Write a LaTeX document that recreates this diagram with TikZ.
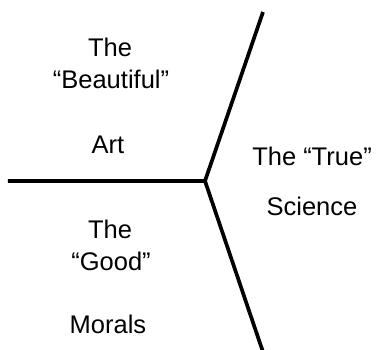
\documentclass[tikz,border=0pt]{standalone}
\usepackage{fontspec}
\setmainfont{Liberation Sans}
\usepackage{tikz}
\usetikzlibrary{positioning}

\begin{document}
\begin{tikzpicture}[
  x=1pt, y=-1pt,
  divider/.style={draw=black, line width=3.7pt, line join=miter},
  realm/.style={anchor=base, inner sep=0pt, font=\fontsize{25.5}{30}\selectfont}
]
  \useasboundingbox (0,0) rectangle (376,350);

  % Meeting point and free ends of the dividers
  \coordinate (hub) at (205,181);
  \coordinate (westend) at (8,181);
  \coordinate (northend) at (263,12);
  \coordinate (southend) at (263,352);

  % Dividers
  \draw[divider] (westend) -- (hub) -- (northend);
  \draw[divider] (hub) -- (southend);

  % Art
  \node[realm] (artthe) at (110,57) {The};
  \node[realm] (beautiful) at (111,89) {“Beautiful”};
  \node[realm] (art) at (108,154) {Art};

  % Science
  \node[realm] (true) at (312,166) {The “True”};
  \node[realm] (science) at (312,216) {Science};

  % Morals
  \node[realm] (goodthe) at (110,239) {The};
  \node[realm] (good) at (111,271) {“Good”};
  \node[realm] (morals) at (108,334) {Morals};
\end{tikzpicture}
\end{document}
